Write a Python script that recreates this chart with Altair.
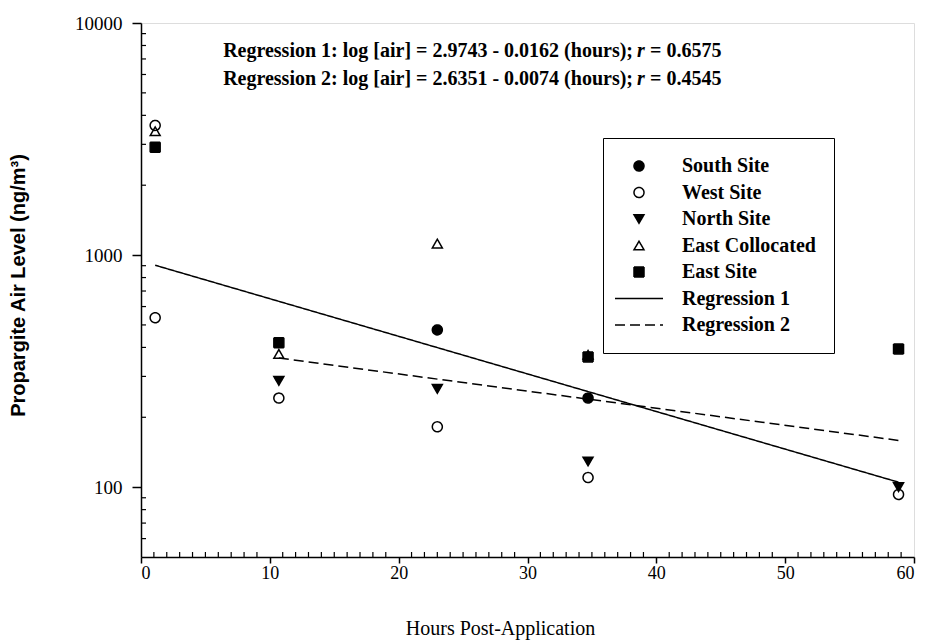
import altair as alt
import pandas as pd

# ---------------- data ----------------
series_order = ["South Site", "West Site", "North Site", "East Collocated",
                "East Site", "Regression 1", "Regression 2"]

south_hours = [23.0, 34.7]
south_air = [476, 242]
west_hours = [1.1, 1.1, 10.7, 23.0, 34.7, 58.8]
west_air = [3620, 537, 242, 182, 110, 93]
north_hours = [10.7, 23.0, 34.7, 58.8]
north_air = [287, 265, 129, 100]
eastcol_hours = [1.1, 10.7, 23.0, 34.7]
eastcol_air = [3415, 375, 1121, 372]
east_hours = [1.1, 10.7, 34.7, 58.8]
east_air = [2913, 419, 364, 394]

reg1_hours = [1.1, 58.8]
reg1_air = [904, 105]
reg2_hours = [10.7, 58.8]
reg2_air = [360, 159]

x_ticks = [0, 10, 20, 30, 40, 50, 60]
y_ticks = [100, 1000, 10000]
x_minor = [h for h in range(1, 60) if h % 10 != 0]
y_minor = [60, 70, 80, 90, 200, 300, 400, 500, 600, 700, 800, 900,
           2000, 3000, 4000, 5000, 6000, 7000, 8000, 9000]

eq_line1 = ["Regression 1: log [air] = 2.9743 - 0.0162 (hours);", "r", "= 0.6575"]
eq_line2 = ["Regression 2: log [air] = 2.6351 - 0.0074 (hours);", "r", "= 0.4545"]

# ---------------- tables ----------------
pts = []
for name, hs, vs in [("South Site", south_hours, south_air),
                     ("West Site", west_hours, west_air),
                     ("North Site", north_hours, north_air),
                     ("East Collocated", eastcol_hours, eastcol_air),
                     ("East Site", east_hours, east_air)]:
    for h, v in zip(hs, vs):
        pts.append({"series": name, "hours": h, "air": v})
points_df = pd.DataFrame(pts)

lines = []
for name, hs, vs in [("Regression 1", reg1_hours, reg1_air),
                     ("Regression 2", reg2_hours, reg2_air)]:
    for h, v in zip(hs, vs):
        lines.append({"series": name, "hours": h, "air": v})
lines_df = pd.DataFrame(lines)

xminor_df = pd.DataFrame({"hours": x_minor})
yminor_df = pd.DataFrame({"air": y_minor})

W, H = 773, 534
SERIF = "Liberation Serif"
LINE_PATH = "M-4.8,0H4.8"

x_scale = alt.Scale(domain=[0, 60], nice=False, zero=False)
y_scale = alt.Scale(type="log", domain=[50, 10000], nice=False)

shape_scale = alt.Scale(domain=series_order,
                        range=["circle", "circle", "triangle-down", "triangle-up",
                               "square", LINE_PATH, LINE_PATH])
fill_scale = alt.Scale(domain=series_order,
                       range=["black", "transparent", "black", "transparent",
                              "black", "transparent", "transparent"])
stroke_scale = alt.Scale(domain=series_order, range=["black"] * 7)
dash_scale = alt.Scale(domain=series_order,
                       range=[[1, 0], [1, 0], [1, 0], [1, 0], [1, 0], [1, 0], [10, 5]])

x_axis = alt.Axis(values=x_ticks, title="Hours Post-Application", grid=False,
                  labelFont=SERIF, labelFontSize=18, labelColor="black",
                  labelPadding=1, tickSize=6, tickWidth=1.5, tickColor="black",
                  domainColor="black", domainWidth=1.5,
                  titleFont=SERIF, titleFontSize=20, titleFontWeight="normal",
                  titleColor="black", titleX=359, titleY=71,
                  titleBaseline="middle", titleAnchor="middle")
y_axis = alt.Axis(values=y_ticks, format="d", title="Propargite Air Level (ng/m³)",
                  grid=False, labelFont=SERIF, labelFontSize=19, labelColor="black",
                  labelPadding=10, tickSize=9, tickWidth=1.5, tickColor="black",
                  domainColor="black", domainWidth=1.5,
                  titleFont="Liberation Sans", titleFontSize=20, titleFontWeight="bold",
                  titleColor="black", titleAngle=-90, titleX=-123, titleY=H / 2 - 5,
                  titleBaseline="middle", titleAlign="center")

legend = alt.Legend(title=None, orient="none", legendX=462, legendY=115,
                    padding=18, strokeColor="black", fillColor="white",
                    labelFont=SERIF, labelFontWeight="bold", labelFontSize=20,
                    labelColor="black", symbolSize=100, symbolStrokeColor="black",
                    symbolStrokeWidth=1.5, symbolOffset=8, labelOffset=33,
                    rowPadding=6.5)

points = alt.Chart(points_df).mark_point(
    filled=True, strokeWidth=1.5, size=100, opacity=1
).encode(
    x=alt.X("hours:Q", scale=x_scale, axis=x_axis),
    y=alt.Y("air:Q", scale=y_scale, axis=y_axis),
    shape=alt.Shape("series:N", scale=shape_scale, legend=legend),
    fill=alt.Fill("series:N", scale=fill_scale, legend=legend),
    stroke=alt.Stroke("series:N", scale=stroke_scale, legend=legend),
    strokeDash=alt.StrokeDash("series:N", scale=dash_scale, legend=legend),
)

reg_lines = alt.Chart(lines_df).mark_line(color="black", strokeWidth=1.5).encode(
    x=alt.X("hours:Q", scale=x_scale),
    y=alt.Y("air:Q", scale=y_scale),
    strokeDash=alt.StrokeDash("series:N", scale=dash_scale, legend=legend),
)

xminor = alt.Chart(xminor_df).mark_rule(color="black", strokeWidth=1.2).encode(
    x=alt.X("hours:Q", scale=x_scale),
    y=alt.value(H), y2=alt.value(H - 5),
)
yminor = alt.Chart(yminor_df).mark_rule(color="black", strokeWidth=1.2).encode(
    y=alt.Y("air:Q", scale=y_scale),
    x=alt.value(0), x2=alt.value(5),
)

def eq_layers(parts, ypix):
    df = pd.DataFrame({"a": [parts[0]], "r": [parts[1]], "b": [parts[2]]})
    base = alt.Chart(df)
    common = dict(font=SERIF, fontSize=20, fontWeight="bold", color="black",
                  baseline="middle")
    a = base.mark_text(align="right", **common).encode(
        x=alt.value(492), y=alt.value(ypix), text="a:N")
    r = base.mark_text(align="left", fontStyle="italic", **common).encode(
        x=alt.value(496), y=alt.value(ypix), text="r:N")
    b = base.mark_text(align="left", **common).encode(
        x=alt.value(509), y=alt.value(ypix), text="b:N")
    return a + r + b

chart = alt.layer(
    xminor, yminor, reg_lines, points,
    eq_layers(eq_line1, 28), eq_layers(eq_line2, 56),
).properties(
    width=W, height=H,
    autosize=alt.AutoSizeParams(type="none"),
    padding={"left": 141, "top": 23, "right": 12, "bottom": 86},
).configure_view(
    stroke="black", strokeWidth=1.5
).configure(background="white")

chart.save("out.html", embed_options={"renderer": "svg", "actions": False})
